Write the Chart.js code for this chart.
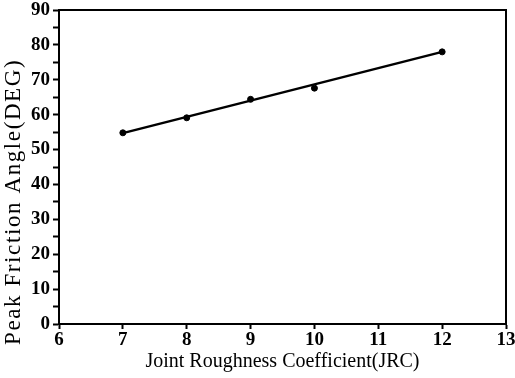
<!DOCTYPE html>
<html>
<head>
<meta charset="utf-8">
<script src="https://cdn.jsdelivr.net/npm/chart.js@4.4.1/dist/chart.umd.min.js"></script>
<style>
html,body{margin:0;padding:0;background:#fff;}
#wrap{width:515px;height:378px;}
</style>
</head>
<body>
<div id="wrap"><canvas id="c" width="515" height="378"></canvas></div>
<script>
const jrc = [7, 8, 9, 10, 12];
const peakAngle = [54.8, 59.1, 64.4, 67.6, 78.0];
const fitX = [7, 12];
const fitY = [54.7, 78.0];
const xTicks = [6, 7, 8, 9, 10, 11, 12, 13];
const yTicks = [0, 5, 10, 15, 20, 25, 30, 35, 40, 45, 50, 55, 60, 65, 70, 75, 80, 85, 90];
const xTitle = 'Joint Roughness Coefficient(JRC)';
const yTitle = 'Peak Friction Angle(DEG)';

const frame = {
  id: 'frame',
  afterDatasetsDraw(chart) {
    const {ctx, chartArea: a} = chart;
    ctx.save();
    ctx.strokeStyle = '#000';
    ctx.lineWidth = 2;
    ctx.strokeRect(a.left, a.top, a.right - a.left, a.bottom - a.top);
    ctx.restore();
  }
};

const serif = '"Liberation Serif", "Times New Roman", serif';
const tickFont = {family: serif, size: 19, weight: 'bold'};

new Chart(document.getElementById('c'), {
  type: 'scatter',
  data: {
    datasets: [
      {
        data: fitX.map((x, i) => ({x, y: fitY[i]})),
        showLine: true,
        borderColor: '#000',
        borderWidth: 2.5,
        pointRadius: 0,
        order: 2
      },
      {
        data: jrc.map((x, i) => ({x, y: peakAngle[i]})),
        backgroundColor: '#000',
        borderColor: '#000',
        pointRadius: 3,
        order: 1
      }
    ]
  },
  plugins: [frame],
  options: {
    responsive: false,
    animation: false,
    layout: {padding: {top: 10, right: 9, left: 0, bottom: 0}},
    plugins: {legend: {display: false}, tooltip: {enabled: false}},
    scales: {
      x: {
        type: 'linear',
        min: 6, max: 13,
        afterBuildTicks(s) { s.ticks = xTicks.map(v => ({value: v})); },
        afterFit(s) { s.height = 54; s.paddingLeft = 0; s.paddingRight = 0; },
        grid: {drawOnChartArea: false, color: '#000', tickLength: 5, tickWidth: 2},
        border: {color: '#000', width: 2},
        ticks: {color: '#000', font: tickFont, padding: 0, maxRotation: 0, autoSkip: false},
        title: {display: true, text: xTitle, color: '#000', font: {family: serif, size: 20}, padding: {top: 0, bottom: 4}}
      },
      y: {
        type: 'linear',
        min: 0, max: 90,
        afterBuildTicks(s) { s.ticks = yTicks.map(v => ({value: v})); },
        afterFit(s) {
          s.width = 59; s.paddingTop = 0; s.paddingBottom = 0;
          if (!s._wrappedTitle) {
            const orig = s.drawTitle;
            s.drawTitle = function () {
              const ctx = this.ctx;
              ctx.save();
              ctx.translate(0, 21);
              ctx.letterSpacing = '1.6px';
              orig.apply(this, arguments);
              ctx.restore();
            };
            s._wrappedTitle = true;
          }
        },
        grid: {drawOnChartArea: false, color: '#000', tickLength: 6, tickWidth: 2},
        border: {color: '#000', width: 2},
        ticks: {color: '#000', font: tickFont, padding: 3, autoSkip: false,
                callback: v => (v % 10 === 0 ? String(v) : '')},
        title: {display: true, text: yTitle, color: '#000', align: 'start', font: {family: serif, size: 23}, padding: {top: 0, bottom: 0}}
      }
    }
  }
});
</script>
</body>
</html>
